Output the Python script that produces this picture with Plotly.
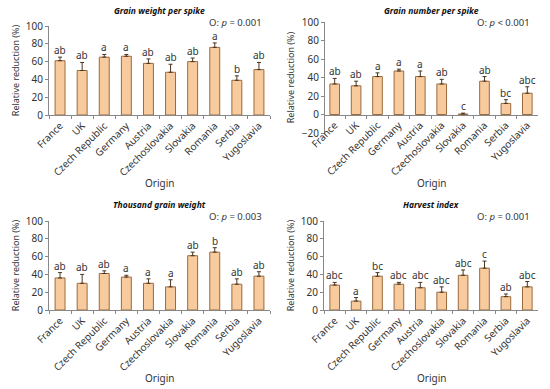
import plotly.graph_objects as go

countries = ["France", "UK", "Czech Republic", "Germany", "Austria",
             "Czechoslovakia", "Slovakia", "Romania", "Serbia", "Yugoslavia"]

gw_vals = [61, 50, 65, 66, 58, 48, 60, 76, 39, 51]
gw_err = [4, 9, 3, 2, 5, 9, 4, 5, 5, 8]
gw_let = ["ab", "ab", "a", "a", "ab", "ab", "ab", "a", "b", "ab"]

gn_vals = [33, 31, 41, 47, 41, 33, 0.5, 36, 12, 23]
gn_err = [6, 5, 4, 2, 6, 5, 1, 5, 4, 7]
gn_let = ["ab", "ab", "a", "a", "a", "ab", "c", "ab", "bc", "abc"]

tgw_vals = [36, 30, 41, 37, 30, 26, 61, 65, 29, 38]
tgw_err = [6, 10, 3, 2, 5, 8, 4, 5, 6, 5]
tgw_let = ["ab", "ab", "ab", "a", "a", "a", "ab", "b", "ab", "ab"]

hi_vals = [28, 10, 38, 29, 25, 20, 39, 47, 15, 26]
hi_err = [3, 4, 4, 2, 6, 6, 6, 8, 3, 6]
hi_let = ["abc", "a", "bc", "abc", "abc", "abc", "abc", "c", "ab", "abc"]

panels = [
    ("Grain weight per spike", "O: <i>p</i> = 0.001", gw_vals, gw_err, gw_let, [0, 100]),
    ("Grain number per spike", "O: <i>p</i> < 0.001", gn_vals, gn_err, gn_let, [-20, 100]),
    ("Thousand grain weight", "O: <i>p</i> = 0.003", tgw_vals, tgw_err, tgw_let, [0, 100]),
    ("Harvest index", "O: <i>p</i> = 0.001", hi_vals, hi_err, hi_let, [0, 100]),
]

W, H = 550, 389
xdoms = [[49 / W, 270 / W], [324 / W, 538 / W], [49 / W, 270 / W], [324 / W, 538 / W]]
ydoms = [[1 - 115 / H, 1 - 26 / H], [1 - 133 / H, 1 - 22 / H],
         [1 - 310 / H, 1 - 221 / H], [1 - 310 / H, 1 - 221 / H]]
title_y = [10, 10, 204, 204]
ptxt_y = [22, 22, 217, 217]
origin_y = [183, 183, 378, 378]

FONT = "Noto Sans"
TXT = "#333333"
fig = go.Figure()
annotations = []
for i, (title, ptxt, vals, err, let, yr) in enumerate(panels):
    n = "" if i == 0 else str(i + 1)
    fig.add_trace(go.Bar(
        x=countries, y=vals, xaxis="x" + n, yaxis="y" + n,
        marker=dict(color="#F8CB9E", line=dict(color="#9A6A3C", width=1)),
        width=0.45,
        error_y=dict(type="data", array=err, arrayminus=[0] * len(err), symmetric=False,
                     color="#4a3520", thickness=1, width=2),
        showlegend=False,
    ))
    xa = dict(domain=xdoms[i], type="category", automargin=False,
              tickangle=-45, tickfont=dict(size=10, color=TXT, family=FONT),
              showline=True, linecolor="#888888", linewidth=1,
              ticks="outside", tickson="boundaries", ticklen=3,
              tickcolor="#888888", showgrid=False)
    if yr[0] < 0:
        # category axis crosses the value axis at zero
        d0, d1 = ydoms[i]
        xa.update(anchor="free",
                  position=d0 + (0 - yr[0]) / (yr[1] - yr[0]) * (d1 - d0))
    else:
        xa.update(anchor="y" + n)
    ya = dict(domain=ydoms[i], anchor="x" + n, range=yr, dtick=20, automargin=False,
              tickfont=dict(size=10, color=TXT, family=FONT),
              showline=True, linecolor="#888888", linewidth=1,
              ticks="outside", ticklen=3, tickcolor="#888888", showgrid=False,
              zeroline=False,
              title=dict(text="Relative reduction (%)", font=dict(size=9, color=TXT, family=FONT),
                         standoff=4))
    if yr[0] < 0:
        ya.update(anchor="free", position=xdoms[i][0])
    fig.update_layout(**{"xaxis" + n: xa, "yaxis" + n: ya})
    for c, v, e, l in zip(countries, vals, err, let):
        annotations.append(dict(x=c, y=v + e, xref="x" + n, yref="y" + n, text=l,
                                showarrow=False, yanchor="bottom", yshift=-2,
                                font=dict(size=10, color=TXT, family=FONT)))
    xc = (xdoms[i][0] + xdoms[i][1]) / 2
    annotations.append(dict(x=xc, y=1 - title_y[i] / H, xref="paper", yref="paper",
                            text="<b><i>" + title + "</i></b>", showarrow=False,
                            xanchor="center", yanchor="middle",
                            font=dict(size=8.5, color="#111111", family=FONT)))
    annotations.append(dict(x=xdoms[i][1] - 6 / W, y=1 - ptxt_y[i] / H, xref="paper", yref="paper",
                            text=ptxt, showarrow=False, xanchor="right", yanchor="middle",
                            font=dict(size=9.5, color=TXT, family=FONT)))
    annotations.append(dict(x=xc, y=1 - origin_y[i] / H, xref="paper", yref="paper",
                            text="Origin", showarrow=False, xanchor="center", yanchor="middle",
                            font=dict(size=10, color=TXT, family=FONT)))

fig.update_layout(width=W, height=H, margin=dict(l=0, r=0, t=0, b=0, autoexpand=False),
                  paper_bgcolor="white", plot_bgcolor="white",
                  annotations=annotations, bargap=0.5)
fig.write_html("out.html", config={"displayModeBar": False},
               post_script="document.body.style.margin='0';")
